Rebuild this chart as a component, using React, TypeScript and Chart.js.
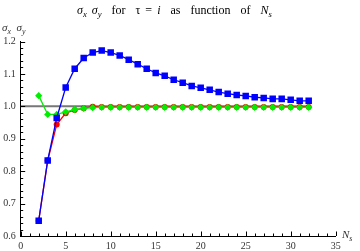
import React, { useEffect, useRef } from "react";
import { Chart, registerables } from "chart.js";

Chart.register(...registerables);

const ns = [2, 3, 4, 5, 6, 7, 8, 9, 10, 11, 12, 13, 14, 15, 16, 17, 18, 19, 20, 21, 22, 23, 24, 25, 26, 27, 28, 29, 30, 31, 32];
const blueValues = [0.647, 0.833, 0.964, 1.058, 1.116, 1.149, 1.166, 1.172, 1.166, 1.157, 1.144, 1.130, 1.116, 1.103, 1.094, 1.082, 1.073, 1.063, 1.057, 1.051, 1.044, 1.039, 1.035, 1.032, 1.028, 1.026, 1.023, 1.023, 1.020, 1.017, 1.017];
const redValues = [0.647, 0.833, 0.944, 0.979, 0.989, 0.994, 0.999, 0.998, 0.998, 0.998, 0.998, 0.998, 0.998, 0.998, 0.998, 0.998, 0.998, 0.998, 0.998, 0.998, 0.998, 0.998, 0.998, 0.998, 0.998, 0.998, 0.998, 0.998, 0.998, 0.998, 0.998];
const greenValues = [1.033, 0.975, 0.975, 0.983, 0.990, 0.994, 0.996, 0.997, 0.997, 0.997, 0.997, 0.997, 0.997, 0.997, 0.997, 0.997, 0.997, 0.997, 0.997, 0.997, 0.997, 0.997, 0.997, 0.997, 0.997, 0.997, 0.997, 0.997, 0.997, 0.997, 0.997];
const refLineX = [0, 32];
const refLineY = [1, 1];
const xTickValues = [0, 5, 10, 15, 20, 25, 30, 35];
const yTickValues = [0.6, 0.7, 0.8, 0.9, 1.0, 1.1, 1.2];

const pts = (xs: number[], ys: number[]) => xs.map((x, i) => ({ x, y: ys[i] }));

const inwardTicks = {
  id: "inwardTicks",
  afterDraw(chart: any) {
    const ctx = chart.ctx;
    const xs = chart.scales.x;
    const ys = chart.scales.y;
    const area = chart.chartArea;
    ctx.save();
    ctx.strokeStyle = "#000";
    ctx.lineWidth = 1;
    ctx.beginPath();
    for (let v = 0; v <= 35; v += 1) {
      const px = Math.round(xs.getPixelForValue(v)) + 0.5;
      const len = v % 5 === 0 ? 4.5 : 2.5;
      ctx.moveTo(px, area.bottom);
      ctx.lineTo(px, area.bottom - len);
    }
    for (let k = 0; k <= 30; k++) {
      const v = 0.6 + k * 0.02;
      const py = Math.round(ys.getPixelForValue(v)) + 0.5;
      const len = k % 5 === 0 ? 4.5 : 2.5;
      ctx.moveTo(area.left, py);
      ctx.lineTo(area.left + len, py);
    }
    ctx.stroke();
    ctx.restore();
  },
};

export default function App() {
  const ref = useRef<HTMLCanvasElement>(null);
  useEffect(() => {
    if (!ref.current) return;
    const font = { family: "'Liberation Serif', serif", size: 10 };
    const chart = new Chart(ref.current, {
      type: "line",
      data: {
        datasets: [
          {
            data: pts(ns, blueValues),
            borderColor: "#0000ff",
            backgroundColor: "#0000ff",
            borderWidth: 1.3,
            pointStyle: "rect",
            pointRadius: 4.6,
            pointBorderWidth: 0,
            order: 1,
          },
          {
            data: pts(ns, greenValues),
            borderColor: "#00ee00",
            backgroundColor: "#00ee00",
            borderWidth: 1.3,
            pointStyle: "rectRot",
            pointRadius: 3.6,
            pointBorderWidth: 0,
            order: 2,
          },
          {
            data: pts(ns, redValues),
            borderColor: "#ff0000",
            backgroundColor: "#ff0000",
            borderWidth: 1.3,
            pointStyle: "circle",
            pointRadius: 3,
            pointBorderWidth: 0,
            order: 3,
          },
          {
            data: pts(refLineX, refLineY),
            borderColor: "#777777",
            borderWidth: 2,
            pointRadius: 0,
            order: 4,
          },
        ],
      },
      options: {
        animation: false,
        responsive: false,
        devicePixelRatio: 1,
        layout: { padding: { left: 0, right: 24.3, top: 41.5, bottom: 0 } },
        plugins: { legend: { display: false }, tooltip: { enabled: false }, title: { display: false } },
        scales: {
          x: {
            type: "linear",
            min: 0,
            max: 35,
            afterFit: (s: any) => { s.height = 15; },
            afterBuildTicks: (s: any) => { s.ticks = xTickValues.map((v) => ({ value: v })); },
            grid: { display: false, drawTicks: false, tickLength: 0 },
            border: { display: true, color: "#000", width: 1 },
            ticks: { font, color: "#333", padding: 4, maxRotation: 0, autoSkip: false, callback: (v: any) => String(v) },
          },
          y: {
            type: "linear",
            min: 0.6,
            max: 1.2,
            afterFit: (s: any) => { s.width = 20.7; },
            afterBuildTicks: (s: any) => { s.ticks = yTickValues.map((v) => ({ value: v })); },
            grid: { display: false, drawTicks: false, tickLength: 0 },
            border: { display: true, color: "#000", width: 1 },
            ticks: { font, color: "#333", padding: 5, autoSkip: false, callback: (v: any) => Number(v).toFixed(1) },
          },
        },
      },
      plugins: [inwardTicks],
    });
    return () => chart.destroy();
  }, []);

  const serif = "'Liberation Serif', serif";
  const sub: React.CSSProperties = { fontSize: "0.72em", verticalAlign: "-0.35em", lineHeight: 0, fontStyle: "italic" };
  return (
    <div style={{ position: "fixed", left: 0, top: 0, width: 360, height: 251, background: "#fff", overflow: "hidden" }}>
      <canvas ref={ref} width={360} height={251} style={{ position: "absolute", left: 0, top: 0, width: 360, height: 251 }} />
      <div style={{ position: "absolute", left: 77, top: 3, fontFamily: serif, fontSize: 12, color: "#000", whiteSpace: "nowrap", lineHeight: "14px", wordSpacing: "2px" }}>
        <i>σ</i><span style={sub}>x</span> <i>σ</i><span style={sub}>y</span>&nbsp; for &nbsp;τ = <i>i</i>&nbsp; as &nbsp;function &nbsp;of &nbsp;<i>N</i><span style={sub}>s</span>
      </div>
      <div style={{ position: "absolute", left: 2, top: 21, fontFamily: serif, fontSize: 11, color: "#333", whiteSpace: "nowrap", lineHeight: "12px" }}>
        <i>σ</i><span style={sub}>x</span>&nbsp;&nbsp;<i>σ</i><span style={sub}>y</span>
      </div>
      <div style={{ position: "absolute", left: 342, top: 228, fontFamily: serif, fontSize: 11, color: "#333", whiteSpace: "nowrap", lineHeight: "12px" }}>
        <i>N</i><span style={sub}>s</span>
      </div>
    </div>
  );
}
